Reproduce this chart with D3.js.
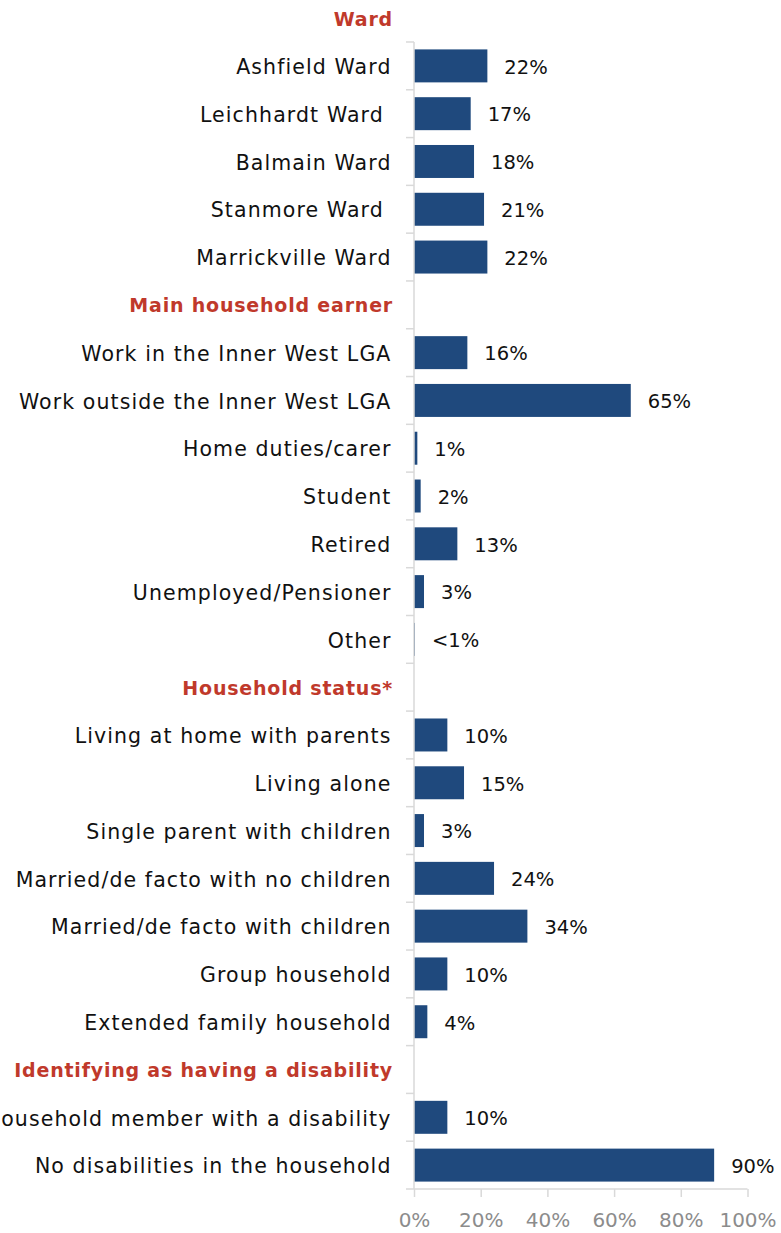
<!DOCTYPE html>
<html>
<head>
<meta charset="utf-8">
<script src="https://cdn.jsdelivr.net/npm/d3@7"></script>
<style>
  html, body { margin: 0; padding: 0; background: #fff; }
  svg { display: block; }
  text { font-family: "DejaVu Sans", sans-serif; }
</style>
</head>
<body>
<svg id="chart" width="781" height="1233"></svg>
<script>
// Category rows, top to bottom; section headers carry no value
const categories = [
  "Ward",
  "Ashfield Ward", "Leichhardt Ward ", "Balmain Ward", "Stanmore Ward ", "Marrickville Ward",
  "Main household earner",
  "Work in the Inner West LGA", "Work outside the Inner West LGA", "Home duties/carer",
  "Student", "Retired", "Unemployed/Pensioner", "Other",
  "Household status*",
  "Living at home with parents", "Living alone", "Single parent with children",
  "Married/de facto with no children", "Married/de facto with children",
  "Group household", "Extended family household",
  "Identifying as having a disability",
  "Household member with a disability", "No disabilities in the household"
];
const headers = ["Ward", "Main household earner", "Household status*", "Identifying as having a disability"];

// Share of respondents (%) per row; null for section headers
const values = [
  null,
  22, 17, 18, 21, 22,
  null,
  16, 65, 1, 2, 13, 3, 0.3,
  null,
  10, 15, 3, 24, 34, 10, 4,
  null,
  10, 90
];
// Printed value labels
const valueLabels = [
  "",
  "22%", "17%", "18%", "21%", "22%",
  "",
  "16%", "65%", "1%", "2%", "13%", "3%", "<1%",
  "",
  "10%", "15%", "3%", "24%", "34%", "10%", "4%",
  "",
  "10%", "90%"
];
const xTicks = [0, 20, 40, 60, 80, 100];

const svg = d3.select("#chart");
const plotLeft = 414, plotRight = 747.5, plotTop = -5.8, plotBottom = 1189;

const x = d3.scaleLinear().domain([0, 100]).range([plotLeft, plotRight]);
const y = d3.scaleBand().domain(categories).range([plotTop, plotBottom]).paddingInner(0.31).paddingOuter(0.155);
const step = (plotBottom - plotTop) / categories.length;

const rows = categories.map((c, i) => ({ cat: c, value: values[i], label: valueLabels[i], header: headers.includes(c) }));

// Bars
svg.append("g").selectAll("rect")
  .data(rows.filter(d => d.value != null))
  .join("rect")
  .attr("x", x(0))
  .attr("y", d => y(d.cat))
  .attr("width", d => x(d.value) - x(0))
  .attr("height", y.bandwidth())
  .attr("fill", "#1f497d");

// Value labels
svg.append("g").selectAll("text")
  .data(rows.filter(d => d.value != null))
  .join("text")
  .attr("x", d => x(d.value) + 17)
  .attr("y", d => y(d.cat) + y.bandwidth() / 2)
  .attr("dy", "0.4em")
  .attr("font-size", 19.5)
  .attr("fill", "#111")
  .text(d => d.label);

// Category axis: line and boundary ticks
const yAxisG = svg.append("g");
yAxisG.append("line")
  .attr("x1", plotLeft).attr("x2", plotLeft)
  .attr("y1", plotTop + step).attr("y2", plotBottom)
  .attr("stroke", "#d9d9d9").attr("stroke-width", 1.5);
yAxisG.selectAll("line.tick")
  .data(d3.range(1, categories.length))
  .join("line")
  .attr("class", "tick")
  .attr("x1", plotLeft - 8).attr("x2", plotLeft)
  .attr("y1", i => plotTop + i * step).attr("y2", i => plotTop + i * step)
  .attr("stroke", "#d9d9d9").attr("stroke-width", 1.5);

// Category labels
svg.append("g").selectAll("text")
  .data(rows)
  .join("text")
  .attr("x", d => d.header ? 393 : 391.5)
  .attr("y", d => y(d.cat) + y.bandwidth() / 2)
  .attr("dy", "0.4em")
  .attr("text-anchor", "end")
  .attr("font-size", d => d.header ? 19 : 20.5)
  .attr("letter-spacing", d => d.header ? 0.8 : 1.1)
  .attr("font-weight", d => d.header ? "bold" : "normal")
  .attr("fill", d => d.header ? "#c0392b" : "#111")
  .style("white-space", "pre")
  .text(d => d.cat);

// Value axis at the bottom
const xAxis = d3.axisBottom(x).tickValues(xTicks).tickFormat(d => d + "%").tickSize(8).tickPadding(16).tickSizeOuter(0);
const xg = svg.append("g").attr("transform", `translate(0,${plotBottom})`).call(xAxis);
xg.select(".domain").remove();
xg.append("line").attr("x1", plotLeft - 8).attr("x2", plotRight).attr("y1", 0).attr("y2", 0)
  .attr("stroke", "#d9d9d9").attr("stroke-width", 1.5);
xg.selectAll(".tick line").attr("stroke", "#d9d9d9").attr("stroke-width", 1.5);
xg.selectAll(".tick text").attr("fill", "#8c8c8c").attr("font-size", 20)
  .attr("font-family", "DejaVu Sans, sans-serif");
</script>
</body>
</html>
